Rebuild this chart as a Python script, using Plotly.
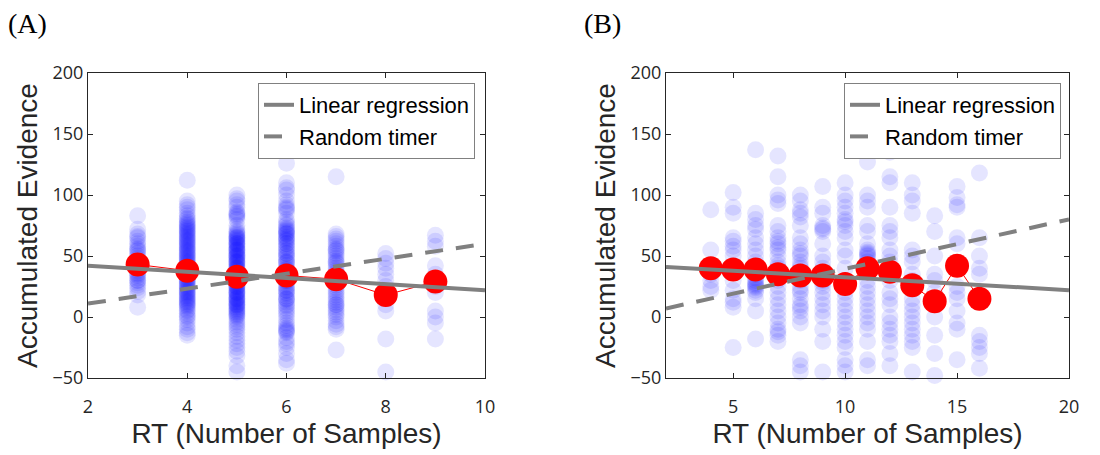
import plotly.graph_objects as go

# ---------------- Panel A data ----------------
a_vals = {
    3: [83, 72, 68, 66, 65, 62, 60, 58, 56, 54, 52, 50, 48, 46, 44, 42, 40, 38, 36, 34, 32, 30,
        28, 26, 24, 21, 18, 8, 55, 45, 35, 30],
    4: [112, 95, 92, 90, 88, 85, 83, 81, 80, 78, 77, 76, 75, 74, 73, 72, 71, 70, 69, 68, 67, 66,
        65, 64, 63, 62, 61, 60, 59, 58, 57, 56, 55, 54, 53, 52, 51, 50, 49, 48, 47, 46, 45, 44,
        43, 42, 41, 40, 39, 38, 37, 36, 35, 34, 33, 32, 31, 30, 29, 28, 27, 26, 25, 24, 23, 22,
        21, 20, 19, 18, 17, 16, 15, 14, 13, 12, 11, 10, 9, 8, 6, 5, 3, 1, 0, -2, -5, -8, -10,
        -13, -15],
    5: [100, 97, 95, 92, 90, 86, 85, 84, 83, 82, 80, 75, 72, 70, 69, 68, 67, 66, 65, 64, 63, 62,
        61, 60, 59, 58, 57, 56, 55, 54, 53, 52, 51, 50, 49, 48, 47, 46, 45, 44, 43, 42, 41, 40,
        39, 38, 37, 36, 35, 34, 33, 32, 31, 30, 29, 28, 27, 26, 25, 24, 23, 22, 21, 20, 19, 18,
        17, 16, 15, 14, 13, 12, 11, 10, 9, 8, 7, 6, 5, 4, 3, 2, 1, 0, -2, -4, -6, -8, -10, -13,
        -16, -19, -22, -25, -28, -32, -40, -45, 55, 50, 45, 40, 35, 30, 25, 20, 65, 60, 15, 10],
    6: [126, 110, 106, 104, 100, 95, 92, 90, 89, 88, 85, 80, 78, 76, 75, 73, 72, 71, 70, 69, 68,
        66, 65, 64, 63, 62, 60, 58, 57, 55, 54, 52, 50, 49, 47, 45, 44, 42, 40, 39, 37, 35, 34,
        32, 30, 29, 27, 25, 24, 22, 20, 19, 17, 15, 14, 12, 10, 9, 7, 5, 3, 1, -2, -5, -7, -9,
        -10, -11, -12, -13, -17, -20, -22, -25, -30, -35, -38, 68, 60, 52, 45, 38, 30, 22, 15],
    7: [115, 68, 66, 64, 62, 60, 58, 56, 54, 52, 50, 48, 46, 44, 42, 40, 38, 36, 34, 32, 30, 28,
        26, 24, 22, 20, 18, 16, 14, 12, 10, 8, 6, 4, 2, 0, -3, -6, -8, -10, -27, 55, 45, 10],
    8: [52, 48, 44, 40, 35, 30, 25, 20, 15, 10, 5, -18, -45],
    9: [67, 62, 58, 42, 35, 30, 25, 20, 5, 0, -5, -18],
}
a_mean_x = [3, 4, 5, 6, 7, 8, 9]
a_mean_y = [43, 38, 33, 34, 31, 18, 29]
a_reg_x = [2, 10]
a_reg_y = [42, 22]
a_rand_x = [2, 10]
a_rand_y = [11, 60]

# ---------------- Panel B data ----------------
b_vals = {
    4: [88, 55, 42, 35, 30, 25, 22],
    5: [102, 90, 85, 65, 62, 58, 55, 50, 40, 30, 22, 15, 12, 8, -25],
    6: [137, 85, 80, 75, 72, 65, 60, 55, 50, 45, 40, 35, 32, 30, 28, 27, 26, 25, 24, 22, 20,
        15, 5, -18],
    7: [132, 115, 100, 96, 93, 75, 70, 65, 62, 60, 57, 55, 50, 45, 42, 40, 35, 30, 25, 20, 15,
        10, 5, 0, -5, -10, -12, -15, -20],
    8: [100, 95, 88, 85, 82, 75, 65, 60, 55, 52, 50, 45, 42, 40, 35, 30, 25, 22, 20, 15, 10, 8,
        5, 0, -5, -35, -40, -45],
    9: [107, 90, 85, 75, 73, 72, 70, 60, 50, 45, 40, 35, 30, 28, 25, 20, 15, 10, 5, 0, -10, -20,
        -45],
    10: [110, 100, 95, 90, 85, 80, 78, 75, 70, 65, 55, 50, 40, 30, 20, 15, 10, 5, 0, -5, -10,
         -15, -20, -25, -35, -40, -45],
    11: [127, 100, 95, 90, 75, 70, 60, 55, 53, 52, 51, 50, 48, 45, 40, 30, 25, 20, 15, 10, 5,
         0, -5, -10, -20, -35, -40],
    12: [135, 115, 110, 90, 75, 70, 65, 55, 50, 45, 40, 30, 20, 15, 10, 0, -5, -10, -15, -20,
         -30, -40],
    13: [110, 100, 95, 85, 55, 50, 45, 35, 30, 25, 15, 10, 5, 0, -5, -10, -15, -20, -25, -45],
    14: [83, 70, 50, 35, 30, 20, 10, 0, -15, -30, -48],
    15: [107, 98, 92, 90, 65, 60, 25, 20, 15, 5, -5, -10, -35],
    16: [118, 65, 50, 40, 35, -15, -20, -25, -30, -42],
}
b_mean_x = [4, 5, 6, 7, 8, 9, 10, 11, 12, 13, 14, 15, 16]
b_mean_y = [40, 39, 39, 35, 34, 34, 27, 40, 37, 26, 13, 42, 15]
b_reg_x = [2, 20]
b_reg_y = [41, 22]
b_rand_x = [2, 20]
b_rand_y = [7, 80]

x_title = "RT (Number of Samples)"
y_title = "Accumulated Evidence"
panel_labels = ["(A)", "(B)"]

GRAY = "#808080"
AXC = "#262626"

fig = go.Figure()


def add_panel(vals, mx, my, rx, ry, tx, ty, xa, ya, legend):
    xs, ys = [], []
    for k, v in vals.items():
        xs += [k] * len(v)
        ys += v
    fig.add_trace(go.Scatter(x=xs, y=ys, mode="markers", xaxis=xa, yaxis=ya,
                             marker=dict(size=17, color="rgba(0,0,255,0.1)", line=dict(width=0)),
                             showlegend=False, cliponaxis=False, hoverinfo="skip"))
    fig.add_trace(go.Scatter(x=mx, y=my, mode="lines+markers", xaxis=xa, yaxis=ya,
                             line=dict(color="red", width=1),
                             marker=dict(size=24, color="red", line=dict(width=0)),
                             showlegend=False, cliponaxis=False))
    fig.add_trace(go.Scatter(x=rx, y=ry, mode="lines", xaxis=xa, yaxis=ya,
                             line=dict(color=GRAY, width=4), name="Linear regression",
                             legend=legend, showlegend=True))
    fig.add_trace(go.Scatter(x=tx, y=ty, mode="lines", xaxis=xa, yaxis=ya,
                             line=dict(color=GRAY, width=4, dash="18px,13px"), name="Random timer",
                             legend=legend, showlegend=True))


add_panel(a_vals, a_mean_x, a_mean_y, a_reg_x, a_reg_y, a_rand_x, a_rand_y, "x", "y", "legend")
add_panel(b_vals, b_mean_x, b_mean_y, b_reg_x, b_reg_y, b_rand_x, b_rand_y, "x2", "y2", "legend2")

W, H = 1100, 455
ydom = [(H - 378) / H, (H - 73) / H]
tickfont = dict(family="Open Sans, DejaVu Sans, sans-serif", size=18, color=AXC)
titlefont = dict(family="Liberation Sans, Arial, sans-serif", size=28, color=AXC)

common_ax = dict(showline=True, linecolor=AXC, linewidth=1, mirror="ticks", ticks="inside",
                 ticklen=5, tickcolor=AXC, showgrid=False, zeroline=False, tickfont=tickfont,
                 title_font=titlefont, automargin=False)

legfont = dict(family="Liberation Sans, Arial, sans-serif", size=22, color="black")

fig.update_layout(
    width=W, height=H, margin=dict(l=0, r=0, t=0, b=0, autoexpand=False),
    paper_bgcolor="white", plot_bgcolor="white",
    xaxis=dict(domain=[88 / W, 485 / W], range=[2, 10], tickvals=[2, 4, 6, 8, 10],
               anchor="y", ticklabelstandoff=12, title=dict(text=x_title, standoff=6), **common_ax),
    yaxis=dict(domain=ydom, range=[-50, 200], tickvals=[-50, 0, 50, 100, 150, 200],
               anchor="x", title=dict(text=y_title, standoff=6), **common_ax),
    xaxis2=dict(domain=[666 / W, 1069 / W], range=[2, 20], tickvals=[5, 10, 15, 20],
                anchor="y2", ticklabelstandoff=12, title=dict(text=x_title, standoff=6), **common_ax),
    yaxis2=dict(domain=ydom, range=[-50, 200], tickvals=[-50, 0, 50, 100, 150, 200],
                anchor="x2", title=dict(text=y_title, standoff=6), **common_ax),
    legend=dict(x=475 / W, y=(H - 83) / H, xanchor="right", yanchor="top",
                bgcolor="white", bordercolor=GRAY, borderwidth=1, font=legfont,
                itemwidth=30, tracegroupgap=0),
    legend2=dict(x=1061 / W, y=(H - 83) / H, xanchor="right", yanchor="top",
                 bgcolor="white", bordercolor=GRAY, borderwidth=1, font=legfont,
                 itemwidth=30, tracegroupgap=0),
    annotations=[
        dict(text=panel_labels[0], x=6 / W, y=1 - 6 / H, xref="paper", yref="paper",
             xanchor="left", yanchor="top", showarrow=False,
             font=dict(family="Liberation Serif, Times New Roman, serif", size=28, color="black")),
        dict(text=panel_labels[1], x=582 / W, y=1 - 6 / H, xref="paper", yref="paper",
             xanchor="left", yanchor="top", showarrow=False,
             font=dict(family="Liberation Serif, Times New Roman, serif", size=28, color="black")),
    ],
)

fig.write_html("out.html")
